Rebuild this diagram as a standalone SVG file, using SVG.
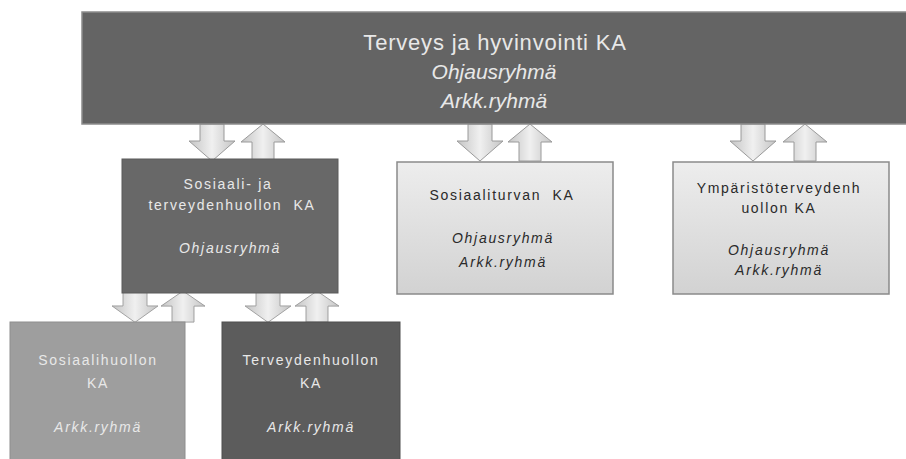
<svg xmlns="http://www.w3.org/2000/svg" width="906" height="459" viewBox="0 0 906 459">
<defs>
<linearGradient id="arrowGrad" x1="0" y1="0" x2="1" y2="0">
<stop offset="0" stop-color="#c4c4c4"/>
<stop offset="0.5" stop-color="#f0f0f0"/>
<stop offset="1" stop-color="#c4c4c4"/>
</linearGradient>
<linearGradient id="lightGrad" x1="0" y1="0" x2="0" y2="1">
<stop offset="0" stop-color="#ededed"/>
<stop offset="1" stop-color="#d2d2d2"/>
</linearGradient>
<path id="dn" d="M-12,0 H12 V17 H23 L0,37 L-23,17 H-12 Z"/>
<path id="up" d="M-11,37 H11 V18 H22 L0,0 L-22,18 H-11 Z"/>
</defs>
<style>
.arrow{fill:url(#arrowGrad);stroke:#9a9a9a;stroke-width:1}
.t{font-family:"Liberation Sans",Arial,sans-serif;text-anchor:middle;white-space:pre}
.w{fill:#e8e8e8}
.d{fill:#2a2a2a}
.s{font-size:14px;letter-spacing:1.7px}
.i{font-style:italic}
.big{font-size:22px;letter-spacing:0.8px}
.bigi{font-size:21px;font-style:italic}
</style>
<rect width="906" height="459" fill="#ffffff"/>

<g id="connectors">
<use href="#dn" class="arrow" x="212" y="124"/>
<use href="#up" class="arrow" x="263" y="124"/>
<use href="#dn" class="arrow" x="480" y="124"/>
<use href="#up" class="arrow" x="530" y="124"/>
<use href="#dn" class="arrow" x="753" y="124"/>
<use href="#up" class="arrow" x="805" y="124"/>
<use href="#dn" class="arrow" transform="translate(135,292) scale(1,0.82)"/>
<use href="#up" class="arrow" transform="translate(183,291) scale(1,0.84)"/>
<use href="#dn" class="arrow" transform="translate(268,292) scale(1,0.82)"/>
<use href="#up" class="arrow" transform="translate(317,291) scale(1,0.84)"/>
</g>

<g id="top">
<rect x="82" y="12" width="830" height="112" fill="#646464" stroke="#8c8c8c" stroke-width="1.5"/>
<text class="t w big" x="495" y="50">Terveys ja hyvinvointi KA</text>
<text class="t w bigi" x="494" y="79">Ohjausryhmä</text>
<text class="t w bigi" x="494" y="108">Arkk.ryhmä</text>
</g>

<g id="sote">
<rect x="122" y="159" width="216" height="134" fill="#686868" stroke="#5a5a5a" stroke-width="1"/>
<text class="t w s" x="228" y="189">Sosiaali- ja</text>
<text class="t w s" x="232" y="210">terveydenhuollon  KA</text>
<text class="t w s i" x="230" y="253">Ohjausryhmä</text>
</g>

<g id="sosiaaliturva">
<rect x="397" y="162" width="216" height="132" fill="url(#lightGrad)" stroke="#8a8a8a" stroke-width="1.5"/>
<text class="t d s" x="502" y="200">Sosiaaliturvan  KA</text>
<text class="t d s i" x="503" y="243">Ohjausryhmä</text>
<text class="t d s i" x="503" y="267">Arkk.ryhmä</text>
</g>

<g id="ymparisto">
<rect x="673" y="162" width="216" height="132" fill="url(#lightGrad)" stroke="#8a8a8a" stroke-width="1.5"/>
<text class="t d s" x="779" y="193">Ympäristöterveydenh</text>
<text class="t d s" x="779" y="213">uollon KA</text>
<text class="t d s i" x="779" y="255">Ohjausryhmä</text>
<text class="t d s i" x="779" y="275">Arkk.ryhmä</text>
</g>

<g id="sosiaalihuolto">
<rect x="10" y="322" width="175" height="140" fill="#9e9e9e" stroke="#8e8e8e" stroke-width="1"/>
<text class="t w s" x="98" y="365">Sosiaalihuollon</text>
<text class="t w s" x="98" y="388">KA</text>
<text class="t w s i" x="98" y="432">Arkk.ryhmä</text>
</g>

<g id="terveydenhuolto">
<rect x="222" y="322" width="178" height="140" fill="#5c5c5c" stroke="#4e4e4e" stroke-width="1"/>
<text class="t w s" x="311" y="365">Terveydenhuollon</text>
<text class="t w s" x="311" y="388">KA</text>
<text class="t w s i" x="311" y="432">Arkk.ryhmä</text>
</g>
</svg>
